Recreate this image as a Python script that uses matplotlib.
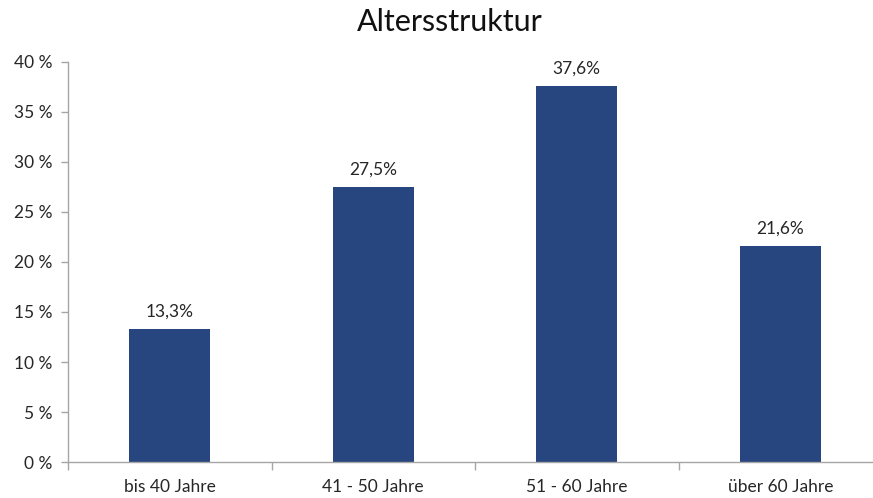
import matplotlib

matplotlib.use("Agg")

import matplotlib.pyplot as plt
import numpy as np

categories = ["bis 40 Jahre", "41 - 50 Jahre", "51 - 60 Jahre", "über 60 Jahre"]
values = [13.3, 27.5, 37.6, 21.6]
value_labels = ["13,3%", "27,5%", "37,6%", "21,6%"]
y_ticks = [0, 5, 10, 15, 20, 25, 30, 35, 40]

BAR = "#27467F"
INK = "#262626"
AXIS = "#A6A6A6"

plt.rcParams["font.family"] = ["Lato", "DejaVu Sans"]

W, H = 873, 498
fig = plt.figure(figsize=(W / 100, H / 100), dpi=100)
# axes run past the right edge, as in the reference
ax = fig.add_axes([68 / W, 36 / H, (882 - 68) / W, (462 - 62) / H])

x = np.arange(len(categories))
ax.bar(x, values, width=0.40, color=BAR, zorder=2)

for xi, v, lab in zip(x, values, value_labels):
    ax.annotate(lab, (xi, v), xytext=(0, 7), textcoords="offset points",
                ha="center", va="bottom", fontsize=12.5, color=INK)

ax.set_xlim(-0.5, len(categories) - 0.5)
ax.set_ylim(0, 40)
ax.set_yticks(y_ticks, [f"{t} %" for t in y_ticks])
ax.set_xticks(x, categories)
ax.set_xticks(np.arange(len(categories) + 1) - 0.5, minor=True)
ax.tick_params(axis="x", which="major", length=0, pad=12)
ax.tick_params(axis="x", which="minor", length=6, color=AXIS, width=1)
ax.tick_params(axis="y", length=5, color=AXIS, width=1, pad=6)
for lab in ax.get_xticklabels() + ax.get_yticklabels():
    lab.set_fontsize(12.5)
    lab.set_color(INK)

for s in ["top", "right"]:
    ax.spines[s].set_visible(False)
for s in ["left", "bottom"]:
    ax.spines[s].set_color(AXIS)
    ax.spines[s].set_linewidth(1)

fig.text(450 / W, 1 - 22 / H, "Altersstruktur", ha="center", va="center",
         fontsize=22, color="#111111")

fig.savefig("out.png", dpi=100)
